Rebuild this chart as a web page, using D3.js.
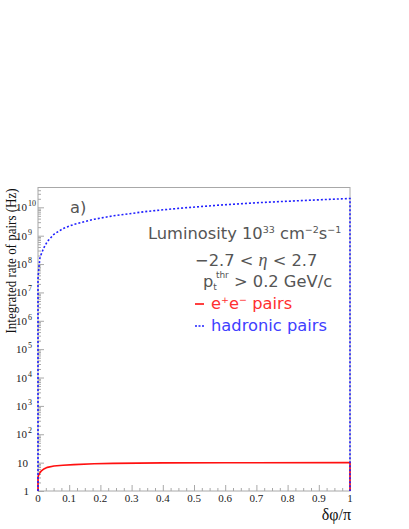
<!DOCTYPE html>
<html><head><meta charset="utf-8">
<script src="https://cdn.jsdelivr.net/npm/d3@7"></script>
<style>body{margin:0;background:#fff}svg{display:block}</style>
</head><body><svg id="c" width="409" height="529"></svg>
<script>
// data
const hadronX = [0, 0, 0.002, 0.006, 0.012, 0.019, 0.03, 0.051, 0.08, 0.115, 0.18, 0.24, 0.35, 0.45, 0.583, 0.7, 0.85, 1.0, 1.0];
const hadronY = [1, 3e7, 6e7, 1.6e8, 2.5e8, 3.8e8, 6.3e8, 1.12e9, 1.78e9, 2.5e9, 3.8e9, 5.0e9, 7.2e9, 9.2e9, 1.2e10, 1.45e10, 1.74e10, 2.05e10, 1];
const eeX = [0, 0, 0.002, 0.005, 0.01, 0.019, 0.03, 0.051, 0.08, 0.115, 0.18, 0.24, 0.4, 0.6, 1.0, 1.0];
const eeY = [1, 3.0, 3.6, 4.2, 5.0, 6.0, 6.8, 7.6, 8.1, 8.5, 9.1, 9.4, 9.8, 9.9, 10, 1];
const xMajor = [0,0.1,0.2,0.3,0.4,0.5,0.6,0.7,0.8,0.9,1];
const xLabels = ["0","0.1","0.2","0.3","0.4","0.5","0.6","0.7","0.8","0.9","1"];
const yMajor = [1,1e1,1e2,1e3,1e4,1e5,1e6,1e7,1e8,1e9,1e10];
const yExp = [0,1,2,3,4,5,6,7,8,9,10];

const svg = d3.select("#c");
const L=38, R=350, T=187.5, B=491;
const x = d3.scaleLinear().domain([0,1]).range([L,R]);
const y = d3.scaleLog().domain([1,5e10]).range([B,T]);
const gray = "#a8a8a8";

// frame
svg.append("rect").attr("x",L).attr("y",T).attr("width",R-L).attr("height",B-T)
  .attr("fill","none").attr("stroke",gray).attr("stroke-width",1);

// x axis ticks
const xMinor = d3.range(0,1.0001,0.025).filter(v=>Math.abs(v*10-Math.round(v*10))>1e-6);
const gx = svg.append("g").attr("transform",`translate(0,${B})`);
gx.call(d3.axisBottom(x).tickValues(xMajor).tickSizeInner(-6).tickSizeOuter(0).tickFormat(""));
const gxm = svg.append("g").attr("transform",`translate(0,${B})`);
gxm.call(d3.axisBottom(x).tickValues(xMinor).tickSizeInner(-3).tickSizeOuter(0).tickFormat(""));
[gx,gxm].forEach(g=>{g.select(".domain").remove(); g.selectAll("line").attr("stroke",gray);});
svg.append("g").selectAll("text").data(xMajor).join("text")
  .attr("x",d=>x(d)).attr("y",B+11).attr("text-anchor","middle")
  .attr("font-family","Liberation Serif").attr("font-size",11).attr("fill","#222")
  .text((d,i)=>xLabels[i]);

// y axis ticks
const yMinor=[];
for(let e=0;e<=10;e++) for(let k=2;k<=9;k++){const v=k*Math.pow(10,e); if(v<5e10) yMinor.push(v);}
const gy = svg.append("g").attr("transform",`translate(${L},0)`);
gy.call(d3.axisLeft(y).tickValues(yMajor).tickSizeInner(-6).tickSizeOuter(0).tickFormat(""));
const gym = svg.append("g").attr("transform",`translate(${L},0)`);
gym.call(d3.axisLeft(y).tickValues(yMinor).tickSizeInner(-3).tickSizeOuter(0).tickFormat(""));
[gy,gym].forEach(g=>{g.select(".domain").remove(); g.selectAll("line").attr("stroke",gray);});
const yl = svg.append("g").attr("font-family","Liberation Serif").attr("fill","#222");
yMajor.forEach((v,i)=>{
  const e=yExp[i], yy=y(v)+4;
  if(e===0){ yl.append("text").attr("x",29).attr("y",yy).attr("text-anchor","end").attr("font-size",11).text("1"); }
  else if(e===1){ yl.append("text").attr("x",28).attr("y",yy).attr("text-anchor","end").attr("font-size",11).text("10"); }
  else {
    yl.append("text").attr("x",27).attr("y",yy).attr("text-anchor","end").attr("font-size",11).text("10");
    yl.append("text").attr("x",28).attr("y",yy-5).attr("text-anchor","start").attr("font-size",8).text(String(e));
  }
});

// axis titles
svg.append("text").attr("transform",`translate(16,${T+1}) rotate(-90) scale(1,1.15)`).attr("text-anchor","end")
  .attr("font-family","Liberation Serif").attr("font-size",13).attr("fill","#111")
  .text("Integrated rate of pairs (Hz)");
svg.append("text").attr("x",R+1).attr("y",520).attr("text-anchor","end")
  .attr("font-family","Liberation Serif").attr("font-size",16).attr("fill","#111").text("δφ/π");

// curves
const line = d3.line().x(d=>x(d[0])).y(d=>y(d[1]));
svg.append("path").datum(eeX.map((v,i)=>[v,eeY[i]])).attr("d",line)
  .attr("fill","none").attr("stroke","#ff1010").attr("stroke-width",1.6);
svg.append("path").datum(hadronX.map((v,i)=>[v,hadronY[i]])).attr("d",line)
  .attr("fill","none").attr("stroke","#2020ff").attr("stroke-width",1.6).attr("stroke-dasharray","2,2");

// texts
const sf = "DejaVu Sans";
const tc = "#555";
const fs = 16.3;
svg.append("text").attr("x",70).attr("y",213).attr("font-family",sf).attr("font-size",fs).attr("fill",tc).text("a)");
const lum = svg.append("text").attr("x",148).attr("y",239).attr("font-family",sf).attr("font-size",fs).attr("fill",tc);
lum.append("tspan").text("Luminosity 10");
lum.append("tspan").attr("font-size",9.5).attr("dy",-6).text("33");
lum.append("tspan").attr("dy",6).text(" cm");
lum.append("tspan").attr("font-size",9.5).attr("dy",-6).text("−2");
lum.append("tspan").attr("dy",6).text("s");
lum.append("tspan").attr("font-size",9.5).attr("dy",-6).text("−1");
const eta = svg.append("text").attr("x",195).attr("y",266).attr("font-family",sf).attr("font-size",fs).attr("fill",tc);
eta.append("tspan").text("−2.7 < ");
eta.append("tspan").attr("font-family","Liberation Serif").attr("font-style","italic").attr("font-size",18).text("η");
eta.append("tspan").text(" < 2.7");
const pt = svg.append("text").attr("x",203).attr("y",287).attr("font-family",sf).attr("font-size",fs).attr("fill",tc);
pt.append("tspan").text("p");
pt.append("tspan").attr("font-size",9).attr("dy",3).text("t");
pt.append("tspan").attr("font-size",9).attr("dx",-1).attr("dy",-12).text("thr");
pt.append("tspan").attr("dy",9).text(" > 0.2 GeV/c");
svg.append("line").attr("x1",195).attr("x2",204).attr("y1",304).attr("y2",304).attr("stroke","#ff1010").attr("stroke-width",1.6);
const ee = svg.append("text").attr("x",211).attr("y",309).attr("font-family",sf).attr("font-size",fs).attr("fill","#ff3030");
ee.append("tspan").text("e");
ee.append("tspan").attr("font-size",9.5).attr("dy",-6).text("+");
ee.append("tspan").attr("dy",6).text("e");
ee.append("tspan").attr("font-size",9.5).attr("dy",-6).text("−");
ee.append("tspan").attr("dy",6).text(" pairs");
svg.append("line").attr("x1",195).attr("x2",204).attr("y1",326).attr("y2",326).attr("stroke","#2020ff").attr("stroke-width",1.6).attr("stroke-dasharray","2,1.5");
svg.append("text").attr("x",211).attr("y",331).attr("font-family",sf).attr("font-size",fs).attr("fill","#4040ff").text("hadronic pairs");
</script></body></html>
